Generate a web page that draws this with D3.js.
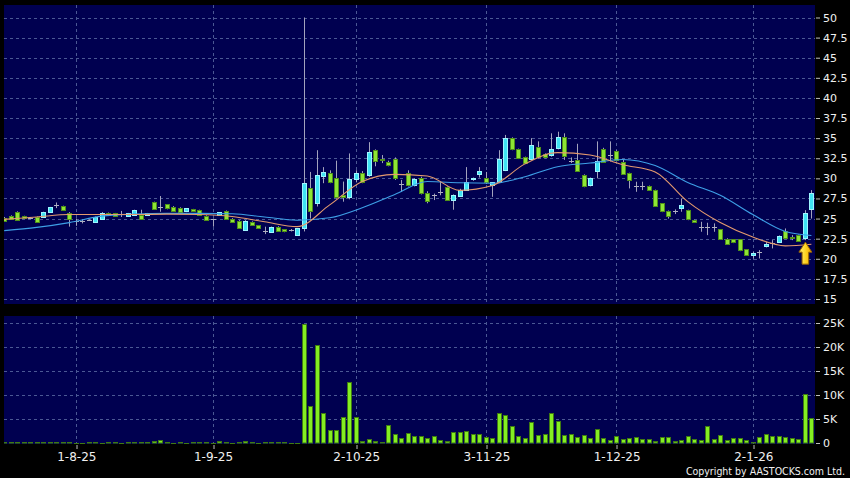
<!DOCTYPE html>
<html><head><meta charset="utf-8">
<script src="https://cdn.jsdelivr.net/npm/d3@7"></script>
<style>html,body{margin:0;padding:0;background:#000;}svg{display:block;}</style>
</head><body>
<svg id="chart" width="850" height="478"></svg>
<script>
// ---- data (prices in HKD, volume in thousands of shares) ----
const opens = [25.1,25.35,25.85,25.3,25.1,25.2,25.2,25.8,26.7,26.55,25.65,24.7,24.75,24.8,24.6,25.0,25.7,25.65,25.6,25.3,25.4,25.5,25.45,27.05,26.5,26.75,26.5,26.35,25.85,26.18,26.05,25.35,24.9,25.44,25.93,25.0,24.73,23.57,24.61,24.15,23.49,23.36,23.99,23.65,23.57,22.95,
23.77,28.75,26.9,30.35,30.7,30.1,27.9,27.6,29.9,30.7,30.4,33.5,32.4,32.0,32.4,29.3,30.7,29.2,30.0,28.2,27.9,28.3,28.9,27.3,27.9,28.6,29.9,30.5,30.0,
29.1,29.5,31.0,35.0,33.6,32.6,32.4,33.9,33.0,32.8,33.7,35.1,32.15,32.3,30.4,29.1,30.8,33.7,32.9,33.4,
32.07,30.61,29.04,29.04,29.08,28.54,26.88,25.97,25.93,26.26,26.05,24.81,23.98,23.98,23.9,23.65,22.49,22.41,22.41,21.16,20.46,20.87,21.58,21.91,22.07,23.48,22.65,22.94,22.53,26.14];
const highs = [25.2,25.4,25.9,25.35,25.2,25.25,25.85,26.45,27.0,26.6,25.8,25.0,24.9,24.9,25.25,25.8,25.75,25.7,25.95,25.7,26.1,26.1,25.7,27.1,27.8,26.8,26.55,26.4,26.3,26.2,26.1,25.4,25.0,25.8,26.0,25.05,24.8,24.8,24.65,24.2,23.99,24.0,24.05,23.7,23.7,23.8,
50.0,30.8,33.5,31.4,31.0,32.2,29.6,33.1,31.0,30.9,34.5,33.6,32.9,32.2,32.6,29.8,31.0,30.0,30.2,28.4,28.1,29.6,29.0,28.0,28.7,31.4,30.1,31.4,30.8,
29.5,33.5,35.4,35.1,33.7,32.7,35.0,34.6,33.1,35.6,35.8,35.6,32.6,34.3,30.5,30.1,34.6,33.8,34.6,33.5,
32.3,30.7,29.58,29.58,29.1,28.6,26.9,26.0,26.14,27.5,26.1,24.85,24.6,24.48,24.4,23.7,22.55,22.45,22.45,21.2,20.87,21.08,22.11,22.32,22.9,23.77,22.94,23.0,26.05,28.54];
const lows = [24.7,24.95,24.75,25.05,25.0,24.55,25.15,25.75,26.3,26.0,24.0,24.1,24.4,24.7,24.5,24.95,25.4,25.25,25.2,25.25,25.35,25.0,25.4,26.15,25.85,26.15,25.95,25.8,25.8,25.95,25.4,24.75,24.0,25.4,24.85,24.55,23.8,23.5,24.15,23.75,23.07,23.3,23.4,23.3,23.4,22.9,
23.4,25.0,26.5,29.4,29.4,27.5,27.1,27.4,29.5,29.4,30.2,31.5,31.9,31.5,29.8,28.3,29.0,29.0,28.0,26.9,27.3,27.9,27.2,26.1,27.8,28.5,29.7,30.1,29.3,
27.7,29.4,30.9,33.5,32.4,31.8,32.3,32.5,32.5,32.7,33.6,32.3,31.9,30.9,28.9,29.0,30.0,32.0,32.1,32.2,
30.5,28.75,28.33,28.54,28.5,26.5,25.8,25.0,25.56,25.85,24.8,24.55,23.36,22.94,23.36,22.35,21.75,21.95,20.95,20.4,20.04,20.04,21.41,21.29,22.0,22.6,22.32,22.2,22.32,25.0];
const closes = [24.75,25.0,24.8,25.1,25.1,24.6,25.8,26.4,26.7,26.05,24.9,24.7,24.75,24.8,25.2,25.75,25.45,25.3,25.6,25.65,26.05,25.02,25.65,26.2,26.5,26.2,26.0,25.85,26.27,25.98,25.44,24.8,24.9,25.77,24.9,24.6,23.86,24.73,24.19,23.78,23.49,23.99,23.45,23.36,23.57,23.78,
29.37,25.85,30.4,30.8,29.6,27.7,27.6,29.9,30.7,29.6,33.3,32.1,32.3,31.6,30.0,29.3,29.2,29.9,28.1,27.2,27.9,28.3,27.3,27.9,28.6,29.6,30.0,30.9,29.5,
29.5,32.4,35.0,33.6,32.5,31.9,34.2,32.6,32.6,33.6,35.1,32.7,32.15,30.95,29.0,30.0,32.1,32.1,32.9,32.3,
30.61,29.79,29.04,29.04,28.62,26.55,25.85,25.31,25.93,26.68,24.89,24.6,23.98,23.98,23.9,22.41,21.82,21.99,21.0,20.46,20.66,20.87,21.82,21.91,22.82,22.65,22.53,22.24,25.64,28.13];
const volumes = [0.2,0.3,0.25,0.2,0.3,0.25,0.2,0.3,0.25,0.3,0.3,0.1,0.1,0.2,0.15,0.1,0.2,0.3,0.1,0.15,0.2,0.2,0.3,0.35,0.7,0.15,0.1,0.15,0.1,0.2,0.2,0.3,0.1,0.5,0.15,0.1,0.3,0.35,0.3,0.1,0.15,0.2,0.25,0.2,0.1,0.1,
24.8,7.8,20.5,6.25,2.8,2.8,5.35,12.8,5.35,0.35,0.8,0.5,0.3,3.7,1.8,1.0,2.0,1.5,1.4,1.0,1.5,0.6,0.5,2.3,2.2,2.6,1.8,1.8,1.3,
1.0,6.3,5.9,3.6,1.4,1.0,4.4,1.6,1.8,6.2,4.5,1.6,1.9,1.3,1.6,1.0,3.0,1.1,0.7,1.5,
0.8,1.0,1.2,0.9,0.8,0.5,1.3,1.3,0.4,0.6,1.5,0.8,0.7,3.5,0.9,1.6,0.6,1.1,1.1,0.7,0.2,1.2,1.9,1.5,1.4,1.2,1.1,0.9,10.2,5.3];
// moving averages at these bar positions
const maIndex = [0,5,10,15,20,25,30,35,40,45,50,55,60,65,70,75,80,85,90,95,100,105,110,115,120,124];
const maShort = [24.9,25.2,25.5,25.5,25.5,25.55,25.5,25.25,24.6,24.0,26.7,29.6,30.5,30.3,28.5,29.1,31.8,33.2,32.9,31.7,30.8,27.1,24.5,22.7,21.6,21.8];
const maLong  = [23.5,23.9,24.5,25.3,25.55,25.65,25.65,25.6,25.2,24.8,25.1,26.35,28.0,29.6,29.45,29.4,30.2,31.45,31.9,32.35,31.6,29.5,27.9,25.5,23.4,22.9];
// axis ticks
const dateTickIndex = [11,32,54,74,94,115];
const dateTickLabels = ['1-8-25','1-9-25','2-10-25','3-11-25','1-12-25','2-1-26'];
const priceTicks = [15,17.5,20,22.5,25,27.5,30,32.5,35,37.5,40,42.5,45,47.5,50];
const priceTickLabels = ['15','17.5','20','22.5','25','27.5','30','32.5','35','37.5','40','42.5','45','47.5','50'];
const volTicks = [0,5,10,15,20,25];
const volTickLabels = ['0','5K','10K','15K','20K','25K'];
const arrowBar = 123;

// ---- drawing ----
const NAVY = '#000050', GRID = '#4b5894';
const L = 4, R = 815, PT = 5, PB = 304, VT = 316, VB = 444;
const n = closes.length;
const svg = d3.select('#chart');
const x = d3.scaleLinear().domain([0, n - 1]).range([4.2, 811.4]);
const yP = d3.scaleLinear().domain([15, 50]).range([299, 17.5]);
const yV = d3.scaleLinear().domain([0, 25]).range([443, 323]);
const cx = i => Math.round(x(i));

svg.append('rect').attr('width', 850).attr('height', 478).attr('fill', '#000');
const defs = svg.append('defs');
defs.append('clipPath').attr('id', 'cp').append('rect').attr('x', L).attr('y', PT).attr('width', R - L).attr('height', PB - PT);
defs.append('clipPath').attr('id', 'cv').append('rect').attr('x', L).attr('y', VT).attr('width', R - L).attr('height', VB - VT);
const grad = defs.append('linearGradient').attr('id', 'ag').attr('x1', 0).attr('x2', 1).attr('y1', 0).attr('y2', 0);
grad.append('stop').attr('offset', '0%').attr('stop-color', '#fff27a');
grad.append('stop').attr('offset', '55%').attr('stop-color', '#ffd21e');
grad.append('stop').attr('offset', '100%').attr('stop-color', '#f0a000');

svg.append('rect').attr('x', L).attr('y', PT).attr('width', R - L).attr('height', PB - PT).attr('fill', NAVY);
svg.append('rect').attr('x', L).attr('y', VT).attr('width', R - L).attr('height', VB - VT).attr('fill', NAVY);

// grid
const gp = svg.append('g').attr('clip-path', 'url(#cp)');
const gv = svg.append('g').attr('clip-path', 'url(#cv)');
function gridLines(g, ys, top, bottom) {
  g.selectAll('line.h').data(ys).join('line').attr('class', 'h')
    .attr('x1', L).attr('x2', R).attr('y1', d => Math.round(d) + 0.5).attr('y2', d => Math.round(d) + 0.5)
    .attr('stroke', GRID).attr('stroke-dasharray', '3,3');
  g.selectAll('line.v').data(dateTickIndex).join('line').attr('class', 'v')
    .attr('x1', d => cx(d) + 0.5).attr('x2', d => cx(d) + 0.5).attr('y1', top).attr('y2', bottom)
    .attr('stroke', GRID).attr('stroke-dasharray', '3,3');
}
gridLines(gp, priceTicks.map(yP), PT, PB);
gridLines(gv, volTicks.filter(v => v > 0).map(yV), VT, VB);

// candles
const idx = d3.range(n);
const colorOf = i => closes[i] > opens[i] ? 'up' : (closes[i] < opens[i] ? 'down' : 'flat');
const fills = { up: '#3fe3f3', down: '#8ee534', flat: '#9a9aa8' };
const strokes = { up: '#9ff6ff', down: '#4f8f1a', flat: '#9a9aa8' };
gp.selectAll('line.wick').data(idx).join('line').attr('class', 'wick')
  .attr('x1', i => cx(i) + 0.5).attr('x2', i => cx(i) + 0.5)
  .attr('y1', i => yP(highs[i])).attr('y2', i => yP(lows[i]))
  .attr('stroke', '#a3a3bd').attr('stroke-width', 1);
gp.selectAll('rect.body').data(idx.filter(i => colorOf(i) !== 'flat')).join('rect').attr('class', 'body')
  .attr('x', i => cx(i) - 1.5).attr('width', 4)
  .attr('y', i => Math.round(yP(Math.max(opens[i], closes[i]))) + 0.5)
  .attr('height', i => Math.max(1, Math.round(Math.abs(yP(opens[i]) - yP(closes[i])))))
  .attr('fill', i => fills[colorOf(i)]).attr('stroke', i => strokes[colorOf(i)]).attr('stroke-width', 1);
gp.selectAll('line.flat').data(idx.filter(i => colorOf(i) === 'flat')).join('line').attr('class', 'flat')
  .attr('x1', i => cx(i) - 2).attr('x2', i => cx(i) + 3)
  .attr('y1', i => Math.round(yP(closes[i])) + 0.5).attr('y2', i => Math.round(yP(closes[i])) + 0.5)
  .attr('stroke', '#b0b0c0').attr('stroke-width', 1);

// moving averages
const maLine = vals => d3.line().x((d, k) => x(maIndex[k])).y(d => yP(d)).curve(d3.curveMonotoneX)(vals);
gp.append('path').attr('d', maLine(maLong)).attr('fill', 'none').attr('stroke', '#3d9fe6').attr('stroke-width', 1.1);
gp.append('path').attr('d', maLine(maShort)).attr('fill', 'none').attr('stroke', '#e59a6e').attr('stroke-width', 1.1);

// volume bars
gv.selectAll('rect.vol').data(idx).join('rect').attr('class', 'vol')
  .attr('x', i => cx(i) - 1.5).attr('width', 4)
  .attr('y', i => Math.round(yV(volumes[i])) + 0.5)
  .attr('height', i => Math.max(0.5, yV(0) - Math.round(yV(volumes[i])) - 0.5))
  .attr('fill', '#84ee22').attr('stroke', '#3f7a12').attr('stroke-width', 1);

// arrow marker under the highlighted bar
const ax = x(arrowBar) + 0.5, ay = yP(lows[arrowBar]) + 2;
svg.append('path')
  .attr('d', `M${ax},${ay} l6.5,10 l-3.2,0 l0,12 l-6.6,0 l0,-12 l-3.2,0 Z`)
  .attr('fill', 'url(#ag)').attr('stroke', '#9a6400').attr('stroke-width', 1).attr('stroke-linejoin', 'round');

// axes
function styleAxis(g, size) {
  g.select('.domain').remove();
  g.selectAll('.tick line').attr('stroke', '#bfbfbf');
  g.selectAll('.tick text').attr('fill', '#f0f0f0').attr('font-family', 'DejaVu Sans, Verdana, sans-serif').attr('font-size', size);
}
const axP = svg.append('g').attr('transform', `translate(${R + 1},0)`)
  .call(d3.axisRight(yP).tickValues(priceTicks).tickFormat((d, k) => priceTickLabels[k]).tickSize(4).tickPadding(3));
styleAxis(axP, 11);
const axV = svg.append('g').attr('transform', `translate(${R + 1},0)`)
  .call(d3.axisRight(yV).tickValues(volTicks).tickFormat((d, k) => volTickLabels[k]).tickSize(4).tickPadding(3));
styleAxis(axV, 11);
const axX = svg.append('g').attr('transform', `translate(0.5,${VB + 1})`)
  .call(d3.axisBottom(x).tickValues(dateTickIndex).tickFormat((d, k) => dateTickLabels[k]).tickSize(4).tickPadding(3.5));
styleAxis(axX, 12);
axX.selectAll('.tick line').attr('transform', d => `translate(${cx(d) - x(d)},0)`);

svg.append('text').attr('x', 845).attr('y', 474.5).attr('text-anchor', 'end')
  .attr('font-family', 'DejaVu Sans, sans-serif').attr('font-stretch', 'condensed').attr('font-size', 10.5)
  .attr('fill', '#f0f0f0').text('Copyright by AASTOCKS.com Ltd.');
</script>
</body></html>
